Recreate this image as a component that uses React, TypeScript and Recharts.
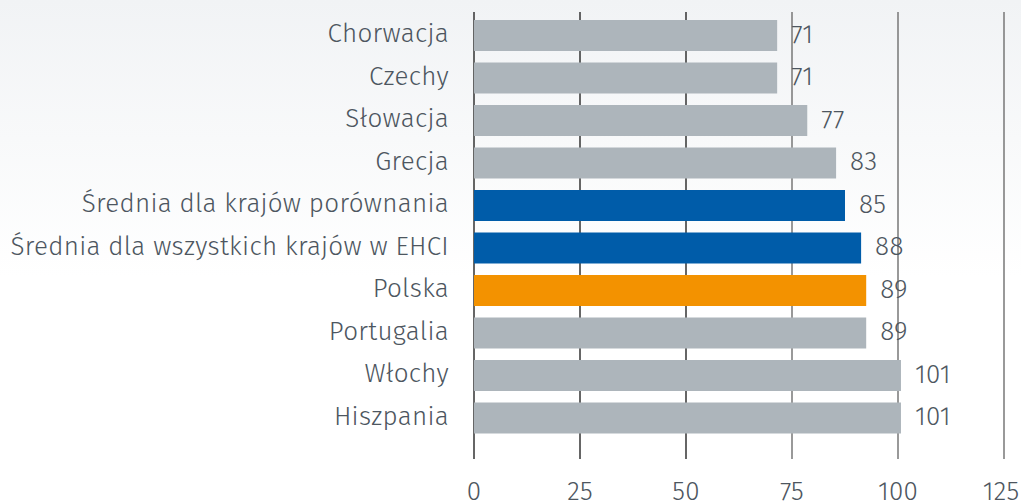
import { BarChart, Bar, XAxis, YAxis, CartesianGrid, Cell, LabelList } from 'recharts';

const categories = [
    'Chorwacja',
    'Czechy',
    'Słowacja',
    'Grecja',
    'Średnia dla krajów porównania',
    'Średnia dla wszystkich krajów w EHCI',
    'Polska',
    'Portugalia',
    'Włochy',
    'Hiszpania',
];
// bar lengths as drawn, and the labels printed next to them
const barValues = [71.5, 71.5, 78.6, 85.4, 87.5, 91.3, 92.5, 92.5, 100.7, 100.7];
const valueLabels = [71, 71, 77, 83, 85, 88, 89, 89, 101, 101];
const groups = ['kraj', 'kraj', 'kraj', 'kraj', 'srednia', 'srednia', 'polska', 'kraj', 'kraj', 'kraj'];
const xTicks = [0, 25, 50, 75, 100, 125];

const groupColors: Record<string, string> = {
    kraj: '#adb5bb',   // grey
    srednia: '#005ca9', // blue
    polska: '#f39200',  // orange
};

const textColor = '#4d5660';
const fontFamily = '"Fira Sans", "Open Sans", sans-serif';
const textStyle = { fill: textColor, fontSize: 26, fontWeight: 300, fontFamily, letterSpacing: 0.3 };

const data = categories.map((name, i) => ({
    name,
    value: barValues[i],
    label: valueLabels[i],
    group: groups[i],
}));

const ValueLabel = (props: any) => {
    const { x, y, width, height, value } = props;
    return (
        <text
            x={Number(x) + Number(width) + 14}
            y={Number(y) + Number(height) / 2 - 2}
            dy="0.36em"
            textAnchor="start"
            style={textStyle}
        >
            {value}
        </text>
    );
};

export default function App() {
    return (
        <div
            style={{
                position: 'absolute',
                left: 0,
                top: 0,
                width: 1021,
                height: 504,
                overflow: 'hidden',
                background: 'linear-gradient(to bottom, #f1f3f5 0%, #ffffff 55%)',
                fontFamily,
            }}
        >
            <BarChart
                width={1021}
                height={504}
                data={data}
                layout="vertical"
                margin={{ top: 12, right: 17, bottom: 0, left: 0 }}
            >
                <CartesianGrid
                    horizontal={false}
                    vertical={(p: any) => (
                        <line
                            key={`v-${p.index}`}
                            x1={p.x1}
                            x2={p.x2}
                            y1={p.y1}
                            y2={p.y2}
                            stroke={p.index < 3 ? '#333333' : '#777777'}
                            strokeWidth={1.5}
                        />
                    )}
                />
                <XAxis
                    type="number"
                    domain={[0, 125]}
                    ticks={xTicks}
                    height={45}
                    axisLine={false}
                    tickLine={false}
                    tickSize={0}
                    tickMargin={23}
                    tick={textStyle}
                />
                <YAxis
                    type="category"
                    dataKey="name"
                    width={474}
                    axisLine={false}
                    tickLine={false}
                    tickSize={0}
                    tickMargin={25}
                    padding={{ top: 2, bottom: 20 }}
                    tick={{ ...textStyle, dy: -2 }}
                />
                <Bar dataKey="value" barSize={31} isAnimationActive={false}>
                    {data.map((d, i) => (
                        <Cell key={`cell-${i}`} fill={groupColors[d.group]} />
                    ))}
                    <LabelList dataKey="label" content={ValueLabel} />
                </Bar>
            </BarChart>
        </div>
    );
}
